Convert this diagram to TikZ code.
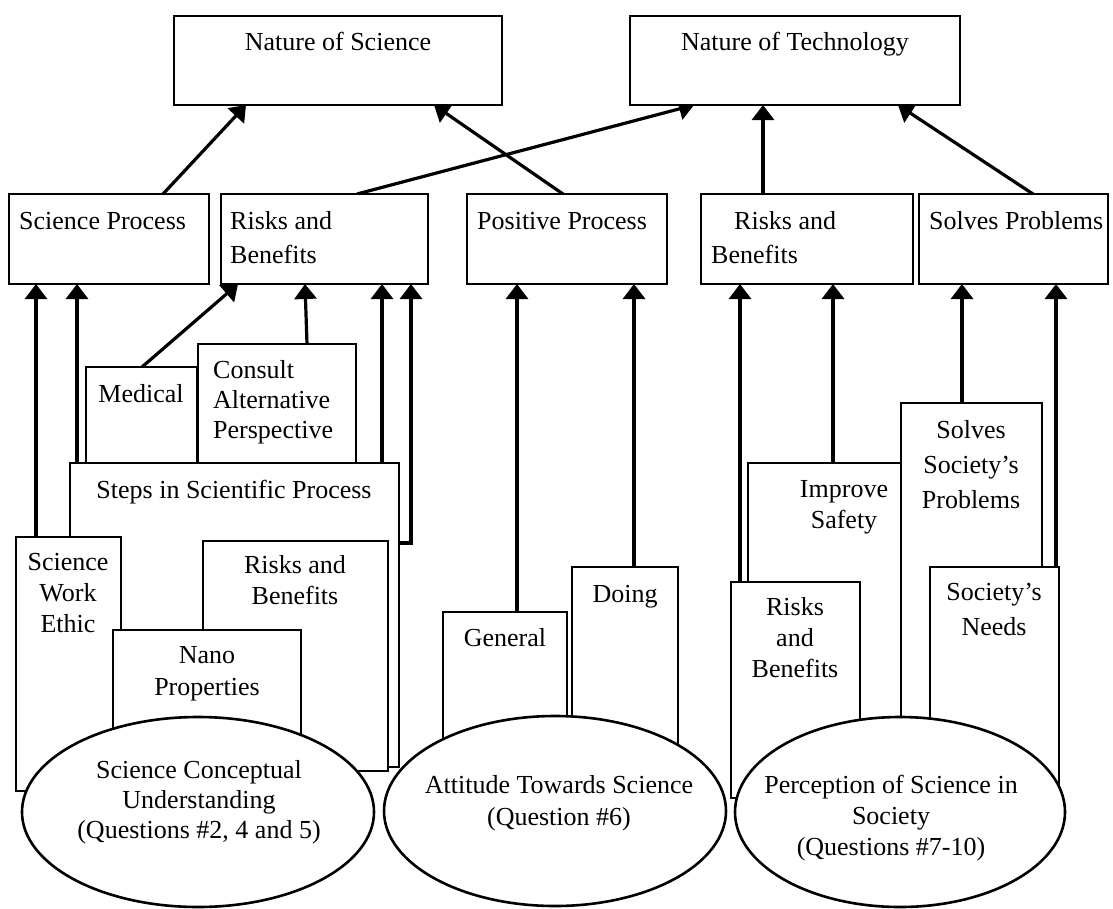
\documentclass[tikz,border=0pt]{standalone}
\usepackage{fontspec}
\setmainfont{Liberation Serif}
\usetikzlibrary{arrows.meta,shapes.geometric,backgrounds}
\begin{document}
\begin{tikzpicture}[x=1pt,y=-1pt,
  bx/.style={draw, line width=2.6pt, fill=white, inner sep=0pt, outer sep=0pt, anchor=north west},
  ell/.style={ellipse, draw, line width=2.6pt, fill=white, inner sep=0pt, outer sep=0pt},
  arr/.style={line width=3.2pt, -{Triangle[width=22pt,length=15pt]}},
  txt/.style={font=\fontsize{26}{30}\selectfont, inner sep=0pt, align=center, anchor=base},
  ltxt/.style={font=\fontsize{26}{34}\selectfont, inner sep=0pt, align=left, anchor=base west},
]
\useasboundingbox (0,0) rectangle (1113,908);
\newcommand{\bbox}[5]{\node[bx, minimum width=#4pt, minimum height=#5pt] (#1) at (#2,#3) {};}
% top row
\bbox{nos}{174}{16}{328}{89}
\bbox{not}{630}{16}{330}{89}
% middle row
\bbox{sp}{9}{194}{200}{90}
\bbox{rbl}{221}{194}{207}{90}
\bbox{pp}{467}{194}{200}{90}
\bbox{rbr}{701}{194}{212}{90}
\bbox{sol}{919}{194}{189}{90}
% left group
\bbox{med}{86}{367}{111}{110}
\bbox{cons}{198}{344}{158}{130}
\bbox{steps}{70}{463}{329}{304}
\bbox{swe}{16}{537}{105}{254}
\bbox{rbi}{203}{541}{185}{230}
\bbox{nano}{113}{630}{188}{130}
% middle group
\bbox{gen}{443}{612}{124}{170}
\bbox{doing}{572}{567}{106}{210}
% right group
\bbox{imp}{748}{463}{153}{300}
\bbox{ssp}{901}{403}{141}{380}
\bbox{sn}{930}{567}{129}{233}
\bbox{rbr2}{731}{582}{129}{216}
% ellipses
\node[ell, minimum width=352pt, minimum height=190pt] (e1) at (198,812) {};
\node[ell, minimum width=342pt, minimum height=190pt] (e2) at (555,811) {};
\node[ell, minimum width=330pt, minimum height=190pt] (e3) at (900,812) {};

% connectors
\begin{scope}[on background layer]
\draw[arr] ([xshift=154pt]sp.north west) -- ([xshift=72pt]nos.south west);
\draw[arr] ([xshift=96pt]pp.north west) -- ([xshift=260pt]nos.south west);
\draw[arr] ([xshift=136pt]rbl.north west) -- ([xshift=64pt]not.south west);
\draw[arr] ([xshift=62pt]rbr.north west) -- ([xshift=133pt]not.south west);
\draw[arr] ([xshift=114pt]sol.north west) -- ([xshift=268pt]not.south west);
\draw[arr] ([xshift=20pt]swe.north west) -- ([xshift=27pt]sp.south west);
\draw[arr] ([xshift=7pt]steps.north west) -- ([xshift=68pt]sp.south west);
\draw[arr] ([xshift=56pt]med.north west) -- ([xshift=17pt]rbl.south west);
\draw[arr] ([xshift=109pt]cons.north west) -- ([xshift=84pt]rbl.south west);
\draw[arr] ([xshift=312pt]steps.north west) -- ([xshift=161pt]rbl.south west);
\draw[arr] ([yshift=-80pt]steps.north east) -| ([xshift=190pt]rbl.south west);
\draw[arr] ([xshift=74pt]gen.north west) -- ([xshift=50pt]pp.south west);
\draw[arr] ([xshift=62pt]doing.north west) -- ([xshift=167pt]pp.south west);
\draw[arr] ([xshift=9pt]rbr2.north west) -- ([xshift=39pt]rbr.south west);
\draw[arr] ([xshift=85pt]imp.north west) -- ([xshift=132pt]rbr.south west);
\draw[arr] ([xshift=61pt]ssp.north west) -- ([xshift=43pt]sol.south west);
\draw[arr] ([xshift=126pt]sn.north west) -- ([xshift=137pt]sol.south west);
\end{scope}

% texts (base anchor = baseline of the last line)
\node[txt] (nos-t) at (338,50) {Nature of Science};
\node[txt] (not-t) at (795,50) {Nature of Technology};
\node[ltxt] (sp-t) at (19,229) {Science Process};
\node[ltxt] (rbl-t) at (230,263) {Risks and\\Benefits};
\node[ltxt] (pp-t) at (477,229) {Positive Process};
\node[ltxt] (rbr-t) at (711,263) {\hspace*{23pt}Risks and\\Benefits};
\node[ltxt] (sol-t) at (929,229) {Solves Problems};
\node[txt] (med-t) at (141,402) {Medical};
\node[ltxt, font=\fontsize{26}{30}\selectfont] (cons-t) at (213,438) {Consult\\Alternative\\Perspective};
\node[txt] (steps-t) at (234,498) {Steps in Scientific Process};
\node[txt, font=\fontsize{26}{31}\selectfont] (swe-t) at (68,632) {Science\\Work\\Ethic};
\node[txt, font=\fontsize{26}{31}\selectfont] (rbi-t) at (295,604) {Risks and\\Benefits};
\node[txt, font=\fontsize{26}{32}\selectfont] (nano-t) at (207,695) {Nano\\Properties};
\node[txt] (gen-t) at (505,646) {General};
\node[txt] (doing-t) at (625,602) {Doing};
\node[txt, font=\fontsize{26}{31}\selectfont] (rbr2-t) at (795,677) {Risks\\and\\Benefits};
\node[txt, font=\fontsize{26}{31}\selectfont] (imp-t) at (844,528) {Improve\\Safety};
\node[txt, font=\fontsize{26}{35}\selectfont] (ssp-t) at (971,508) {Solves\\Society’s\\Problems};
\node[txt, font=\fontsize{26}{35}\selectfont] (sn-t) at (994,635) {Society’s\\Needs};
\node[txt] (e1-t) at (199,838) {Science Conceptual\\Understanding\\(Questions \#2, 4 and 5)};
\node[txt, font=\fontsize{26}{32}\selectfont] (e2-t) at (559,825) {Attitude Towards Science\\(Question \#6)};
\node[txt, font=\fontsize{26}{31}\selectfont] (e3-t) at (891,855) {Perception of Science in\\Society\\(Questions \#7-10)};
\end{tikzpicture}
\end{document}
